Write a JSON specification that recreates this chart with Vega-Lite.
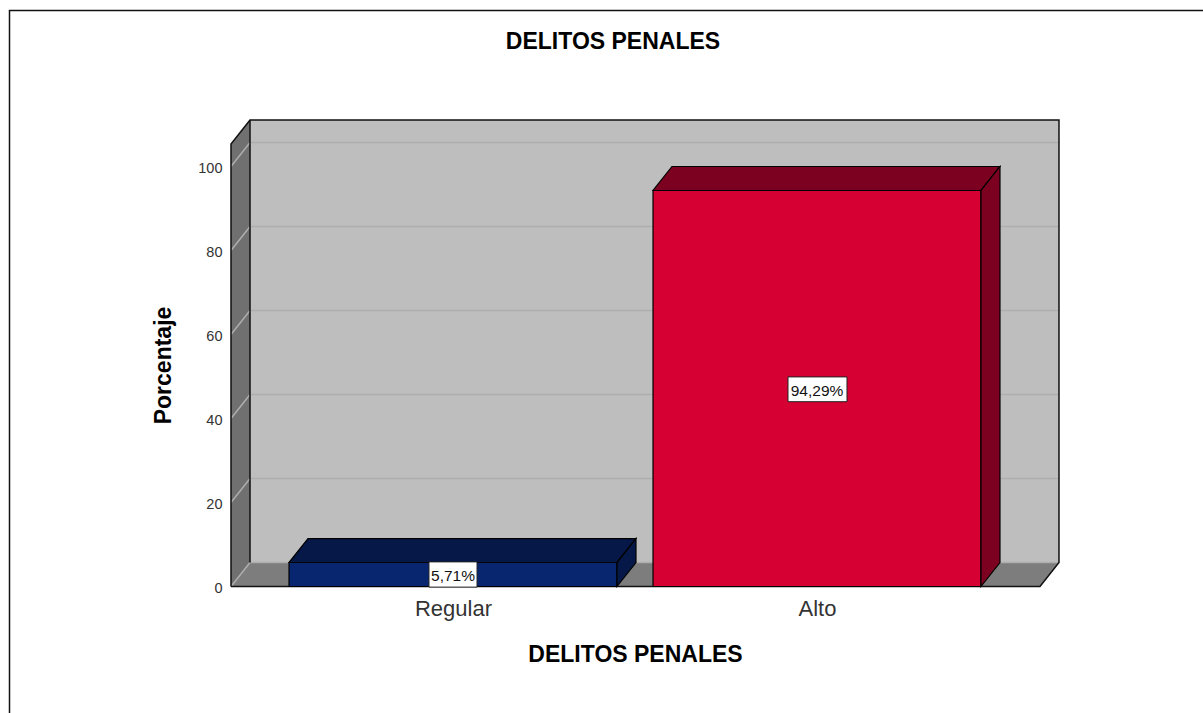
{"$schema":"https://vega.github.io/schema/vega-lite/v6.json","width":828,"height":466.5,"autosize":"none","padding":{"left":231,"top":120,"right":144,"bottom":126.5},"background":"white","config":{"view":{"stroke":null},"font":"Liberation Sans"},
"title":{"text":"DELITOS PENALES","font":"Liberation Sans","fontSize":23,"fontWeight":"bold","color":"#000000","anchor":"middle","frame":"group","dx":-32,"offset":-46.5},
"datasets":{
"walls":[
{"face":"pared izq","x":0.3901,"y":0,"y2":105.36},{"face":"pared izq","x":0.4423,"y":5.71,"y2":111.07},
{"face":"fondo","x":0.4423,"y":5.71,"y2":111.07},{"face":"fondo","x":2.6648,"y":5.71,"y2":111.07},
{"face":"suelo","x":0.3901,"y":0,"y2":0},{"face":"suelo","x":0.4423,"y":0,"y2":5.71},{"face":"suelo","x":2.6126,"y":0,"y2":5.71},{"face":"suelo","x":2.6648,"y":5.71,"y2":5.71}],
"grid":[
{"t":0,"x":0.3901,"y":0},{"t":0,"x":0.4423,"y":5.71},{"t":0,"x":2.6648,"y":5.71},
{"t":20,"x":0.3901,"y":20},{"t":20,"x":0.4423,"y":25.71},{"t":20,"x":2.6648,"y":25.71},
{"t":40,"x":0.3901,"y":40},{"t":40,"x":0.4423,"y":45.71},{"t":40,"x":2.6648,"y":45.71},
{"t":60,"x":0.3901,"y":60},{"t":60,"x":0.4423,"y":65.71},{"t":60,"x":2.6648,"y":65.71},
{"t":80,"x":0.3901,"y":80},{"t":80,"x":0.4423,"y":85.71},{"t":80,"x":2.6648,"y":85.71},
{"t":100,"x":0.3901,"y":100},{"t":100,"x":0.4423,"y":105.71},{"t":100,"x":2.6648,"y":105.71}],
"edges":[
{"e":"marco","s":1,"x":-0.2184,"y":-30.1},{"e":"marco","s":2,"x":-0.2184,"y":137.14},{"e":"marco","s":3,"x":3.0604,"y":137.14},
{"e":"caja","s":1,"x":0.3901,"y":0},{"e":"caja","s":2,"x":0.3901,"y":105.36},{"e":"caja","s":3,"x":0.4423,"y":111.07},{"e":"caja","s":4,"x":2.6648,"y":111.07},{"e":"caja","s":5,"x":2.6648,"y":5.71},{"e":"caja","s":6,"x":2.6126,"y":0},{"e":"caja","s":7,"x":0.3901,"y":0},
{"e":"esquina","s":1,"x":0.4423,"y":111.07},{"e":"esquina","s":2,"x":0.4423,"y":5.71}],
"bars":[
{"face":"Regular frente","x":0.5495,"y":0,"y2":5.71},{"face":"Regular frente","x":1.4505,"y":0,"y2":5.71},
{"face":"Regular tapa","x":0.5495,"y":5.71,"y2":5.71},{"face":"Regular tapa","x":0.6016,"y":5.71,"y2":11.42},{"face":"Regular tapa","x":1.4505,"y":5.71,"y2":11.42},{"face":"Regular tapa","x":1.5027,"y":11.42,"y2":11.42},
{"face":"Regular lado","x":1.4505,"y":0,"y2":5.71},{"face":"Regular lado","x":1.5027,"y":5.71,"y2":11.42},
{"face":"Alto frente","x":1.5495,"y":0,"y2":94.29},{"face":"Alto frente","x":2.4505,"y":0,"y2":94.29},
{"face":"Alto tapa","x":1.5495,"y":94.29,"y2":94.29},{"face":"Alto tapa","x":1.6016,"y":94.29,"y2":100},{"face":"Alto tapa","x":2.4505,"y":94.29,"y2":100},{"face":"Alto tapa","x":2.5027,"y":100,"y2":100},
{"face":"Alto lado","x":2.4505,"y":0,"y2":94.29},{"face":"Alto lado","x":2.5027,"y":5.71,"y2":100}],
"boxes":[{"x":0.934,"x2":1.066,"y":-0.15,"y2":5.86},{"x":1.9203,"x2":2.0824,"y":44,"y2":49.9}],
"labels":[{"x":1,"y":2.855,"label":"5,71%"},{"x":2,"y":47.0,"label":"94,29%"}]
},
"encoding":{
"x":{"field":"x","type":"quantitative","scale":{"domain":[0.39011,2.66484],"nice":false,"zero":false},"axis":{"values":[1,2],"labelExpr":"datum.value==1?'Regular':'Alto'","labelFontSize":22,"labelColor":"#333333","labelPadding":12,"ticks":false,"domain":false,"grid":false,"title":"DELITOS PENALES","titleFontSize":23,"titleFontWeight":"bold","titleColor":"#000000","titleX":404,"titleY":57}},
"y":{"field":"y","type":"quantitative","scale":{"domain":[0,111.07],"nice":false,"zero":false},"axis":{"values":[0,20,40,60,80,100],"labelFontSize":14.5,"labelColor":"#333333","labelPadding":9,"labelOffset":2,"ticks":false,"domain":false,"grid":false,"title":"Porcentaje","titleFontSize":23,"titleFontWeight":"bold","titleColor":"#000000","titleX":-56,"titleY":245}}
},
"layer":[
{"data":{"name":"walls"},"mark":{"type":"area"},"encoding":{"y2":{"field":"y2"},"color":{"field":"face","type":"nominal","legend":null,"scale":{"domain":["pared izq","fondo","suelo","Regular frente","Regular tapa","Regular lado","Alto frente","Alto tapa","Alto lado"],"range":["#707070","#BEBEBE","#7D7D7D","#08266F","#051848","#051848","#D60032","#7C001F","#7C001F"]}}}},
{"data":{"name":"grid"},"mark":{"type":"line","stroke":"#AEAEAE","strokeWidth":1.5},"encoding":{"detail":{"field":"t"}}},
{"data":{"name":"edges"},"mark":{"type":"line","stroke":"#111111","strokeWidth":1.5},"encoding":{"detail":{"field":"e"},"order":{"field":"s"}}},
{"data":{"name":"bars"},"mark":{"type":"area","stroke":"#000000","strokeWidth":1.2},"encoding":{"y2":{"field":"y2"},"color":{"field":"face","type":"nominal","legend":null}}},
{"data":{"name":"boxes"},"mark":{"type":"rect","fill":"#FFFFFF","stroke":"#222222","strokeWidth":1},"encoding":{"x2":{"field":"x2"},"y2":{"field":"y2"}}},
{"data":{"name":"labels"},"mark":{"type":"text","fontSize":15.5,"color":"#111111","baseline":"middle","dy":1.5},"encoding":{"text":{"field":"label"}}}
]}
